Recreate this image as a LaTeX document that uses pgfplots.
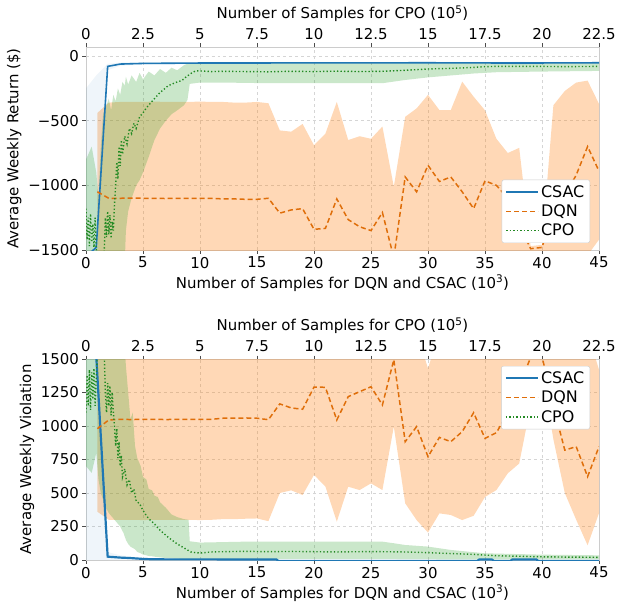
\documentclass[border=0pt]{standalone}
\usepackage{fontspec}
\setmainfont{DejaVu Sans}
\usepackage{pgfplots}
\usepackage{pgfplotstable}
\pgfplotsset{compat=1.18}
\usepgfplotslibrary{fillbetween}

\definecolor{csac}{HTML}{1F77B4}
\definecolor{dqn}{HTML}{FF7F0E}
\definecolor{dqnd}{HTML}{DF6E0A}
\definecolor{cpo}{HTML}{2CA02C}
\definecolor{cpod}{HTML}{238A23}
\definecolor{gridc}{HTML}{D5D5D5}
\definecolor{framec}{HTML}{CCCCCC}

% ---------- Return (top) ----------
\pgfplotstableread{
x m u l
1 -1050 -440 -1700
2 -1100 -360 -1700
3 -1100 -355 -1700
4 -1098 -355 -1700
5 -1100 -355 -1700
6 -1100 -352 -1700
7 -1102 -355 -1700
8 -1100 -355 -1700
9 -1100 -355 -1700
10 -1100 -352 -1700
11 -1100 -355 -1700
12 -1105 -355 -1700
13 -1105 -360 -1700
14 -1108 -360 -1700
15 -1108 -355 -1700
16 -1100 -365 -1700
17 -1215 -575 -1700
18 -1190 -585 -1700
19 -1180 -525 -1700
20 -1340 -690 -1700
21 -1333 -600 -1700
22 -1105 -355 -1700
23 -1265 -650 -1700
24 -1320 -620 -1700
25 -1350 -640 -1700
26 -1210 -545 -1700
27 -1560 -1010 -1700
28 -935 -470 -1700
29 -1050 -405 -1700
30 -845 -300 -1700
31 -970 -418 -1700
32 -935 -418 -1700
33 -1050 -198 -1700
34 -1180 -314 -1700
35 -965 -420 -1700
36 -1000 -640 -1700
37 -1100 -750 -1700
38 -1300 -710 -1700
39 -1490 -1470 -1520
40 -1480 -1460 -1510
41 -1200 -380 -1700
42 -1080 -270 -1700
43 -920 -205 -1700
44 -700 -190 -1540
45 -890 -370 -1420
}\dqnR

\pgfplotstableread{
x m u l
0 -1550 -250 -1700
0.9 -1480 -150 -1700
1.9 -80 -60 -110
3 -62 -50 -75
5 -57 -48 -66
10 -54 -46 -62
20 -53 -46 -60
30 -52 -45 -58
38 -54 -44 -66
45 -52 -45 -58
}\csacR

\pgfplotstableread{
t m
0.00 -1180
0.05 -1420
0.10 -1250
0.15 -1470
0.20 -1220
0.25 -1440
0.30 -1300
0.35 -1480
0.40 -1250
0.45 -1490
0.50 -1550
0.60 -1560
0.70 -1540
0.80 -1520
0.85 -1250
0.90 -1400
0.95 -1200
1.00 -1380
1.05 -1230
1.10 -1410
1.15 -1280
1.20 -1350
1.25 -1150
1.30 -1000
1.35 -820
1.40 -950
1.45 -700
1.50 -850
1.55 -650
1.60 -760
1.70 -620
1.80 -680
1.90 -560
2.00 -600
2.10 -520
2.20 -560
2.35 -470
2.50 -440
2.65 -400
2.80 -370
3.00 -330
3.20 -290
3.40 -260
3.60 -230
3.80 -215
4.00 -200
4.20 -190
4.40 -160
4.60 -135
4.80 -115
5.00 -115
5.50 -120
6 -118
7 -120
8 -122
9 -118
10 -120
11 -117
12 -120
13 -118
14 -110
15 -100
16 -95
17 -88
17.5 -82
18 -80
19 -80
20 -80
21 -82
22.5 -80
}\cpoR

\pgfplotstableread{
t u l
0.00 -800 -1600
0.25 -700 -1600
0.45 -900 -1600
0.55 -1100 -1600
0.65 -700 -1600
0.75 -450 -1600
0.90 -380 -1600
1.00 -330 -1600
1.10 -420 -1600
1.20 -300 -1600
1.30 -350 -1600
1.40 -250 -1600
1.50 -300 -1600
1.60 -200 -1600
1.70 -230 -1600
1.75 -160 -1350
1.85 -220 -1200
2.00 -150 -1100
2.20 -200 -1000
2.35 -130 -960
2.50 -180 -900
2.75 -120 -780
3.00 -150 -650
3.25 -100 -560
3.50 -130 -500
3.75 -90 -450
4.00 -110 -420
4.30 -70 -380
4.45 -60 -340
4.55 -60 -215
5.00 -55 -205
6 -55 -205
8 -55 -210
10 -55 -210
13 -55 -210
14 -55 -185
15 -55 -165
16 -55 -150
17 -55 -135
18 -55 -125
20 -55 -120
22.5 -55 -115
}\cpoRband

% ---------- Violation (bottom) ----------
\pgfplotstableread{
x m u l
1 980 1700 360
2 1045 1700 300
3 1050 1700 300
4 1048 1700 300
5 1050 1700 298
6 1050 1700 300
7 1048 1700 300
8 1050 1700 300
9 1050 1700 300
10 1050 1700 298
11 1050 1700 300
12 1058 1700 305
13 1058 1700 305
14 1060 1700 308
15 1058 1700 310
16 1047 1700 290
17 1165 1700 500
18 1135 1700 520
19 1125 1700 485
20 1290 1700 635
21 1289 1700 548
22 1045 1700 286
23 1219 1700 547
24 1256 1700 522
25 1293 1700 572
26 1157 1700 522
27 1495 1700 995
28 883 1700 423
29 995 1700 298
30 771 1430 205
31 915 1700 348
32 883 1700 336
33 958 1700 298
34 1099 1700 330
35 908 1700 470
36 950 1700 522
37 1100 1700 647
38 1300 1700 720
39 1510 1700 1150
40 1520 1700 1420
41 1150 1700 900
42 820 1700 500
43 846 1700 300
44 622 1700 110
45 846 1420 350
}\dqnV

\pgfplotstableread{
x m u l
0 1600 1700 0
0.9 1520 1700 0
1.9 25 60 0
3 18 35 2
4 14 25 2
5 8 15 0
6 5 10 0
16.7 4 9 0
16.9 -8 -2 -15
34.3 -8 -2 -15
34.5 4 9 0
35.6 4 9 0
35.8 -8 -2 -15
37.2 -8 -2 -15
37.4 4 9 0
39.5 4 9 0
39.7 -8 -2 -15
45 -8 -2 -15
}\csacV

\pgfplotstableread{
t m
0.00 1100
0.05 1380
0.10 1150
0.15 1420
0.20 1120
0.25 1400
0.30 1200
0.35 1430
0.40 1150
0.45 1350
0.50 1560
0.60 1580
0.70 1560
0.80 1540
0.85 1250
0.90 1100
0.95 1320
1.00 1150
1.05 1300
1.10 1080
1.15 1250
1.20 1100
1.25 1000
1.30 850
1.35 980
1.40 760
1.45 880
1.50 700
1.55 780
1.60 620
1.70 680
1.80 560
1.90 600
2.00 500
2.10 530
2.20 440
2.35 420
2.50 370
2.65 330
2.80 300
3.00 270
3.20 230
3.40 200
3.60 170
3.80 145
4.00 120
4.20 100
4.40 80
4.60 60
4.80 55
5.00 52
5.5 60
6 62
7 65
8 62
9 64
10 62
11 60
12 62
13 62
14 60
15 55
16 48
17 42
17.5 37
18 32
19 28
20 24
21 22
22.5 20
}\cpoV

\pgfplotstableread{
t u l
0.00 1700 700
0.25 1700 650
0.45 1700 800
0.55 1700 600
0.65 1700 500
0.85 1700 400
1.00 1700 350
1.25 1700 300
1.50 1700 250
1.65 1700 200
1.75 1450 150
1.85 1250 120
1.95 1050 100
2.05 1100 90
2.15 850 80
2.25 760 60
2.40 700 50
2.50 620 40
2.65 600 35
2.75 530 30
2.90 520 28
3.00 480 25
3.15 470 22
3.25 430 20
3.50 390 15
3.75 340 12
4.00 320 10
4.30 305 8
4.50 300 8
4.55 140 8
5.0 130 8
7.0 137 8
13.0 137 8
13.5 125 8
14 112 6
15 100 6
16 75 5
17.5 50 5
20 40 5
22.5 35 5
}\cpoVband

\pgfplotsset{
  base/.style={
    width=513bp, scale only axis,
    font=\fontsize{15}{18}\selectfont,
    axis line style={framec, line width=0.8pt},
    tick align=outside, major tick length=3.5bp,
    tick style={black!70, line width=0.7pt},
  },
}

\begin{document}
\begin{tikzpicture}
% ===== top: main axis =====
\begin{axis}[base, height=203bp, at={(0,0)}, anchor=north west,
  xmin=0, xmax=45, ymin=-1500, ymax=70,
  xtick={0,5,10,15,20,25,30,35,40,45},
  xticklabels={0,5,10,15,20,25,30,35,40,45},
  ytick={-1500,-1000,-500,0},
  yticklabels={−1500,−1000,−500,0},
  xtick pos=bottom, ytick pos=left,
  grid=major, major grid style={dashed, gridc, line width=0.6pt},
  xlabel={Number of Samples for DQN and CSAC (10\textsuperscript{3})},
  ylabel={Average Weekly Return (\$)},
  legend cell align=left,
  legend style={at={(0.9825,0.0345)}, anchor=south east, draw=framec, rounded corners=2pt,
    fill=white, font=\fontsize{16}{19}\selectfont, inner sep=3.5bp, row sep=2bp},
]
\addplot[name path=dqnu, draw=none, forget plot] table[x=x,y=u]{\dqnR};
\addplot[name path=dqnl, draw=none, forget plot] table[x=x,y=l]{\dqnR};
\addplot[fill=dqn, fill opacity=0.3, draw=none, forget plot] fill between[of=dqnu and dqnl];
\addplot[name path=csu, draw=none, forget plot] table[x=x,y=u]{\csacR};
\addplot[name path=csl, draw=none, forget plot] table[x=x,y=l]{\csacR};
\addplot[fill=csac, fill opacity=0.07, draw=none, forget plot] fill between[of=csu and csl];
\addplot[csac, line width=1.6pt, forget plot] table[x=x,y=m]{\csacR};
\addplot[draw=dqnd, dash pattern=on 5bp off 3bp, line width=1.5pt, forget plot] table[x=x,y=m]{\dqnR};
\addlegendimage{legend image code/.code={\draw[csac, line width=1.6pt] (0bp,0bp) -- (32bp,0bp);}}
\addlegendentry{CSAC}
\addlegendimage{legend image code/.code={\draw[dqnd, line width=1.5pt, dash pattern=on 5bp off 3bp] (0bp,0bp) -- (32bp,0bp);}}
\addlegendentry{DQN}
\addlegendimage{legend image code/.code={\draw[cpod, line width=1.4pt, dash pattern=on 1.3bp off 2.2bp] (0bp,0bp) -- (32bp,0bp);}}
\addlegendentry{CPO}
\end{axis}
% ===== top: CPO axis =====
\begin{axis}[base, height=203bp, at={(0,0)}, anchor=north west,
  xmin=0, xmax=22.5, ymin=-1500, ymax=70,
  axis x line*=top, axis y line=none,
  xtick={0,2.5,5,7.5,10,12.5,15,17.5,20,22.5},
  xticklabels={0,2.5,5,7.5,10,12.5,15,17.5,20,22.5},
  xlabel={Number of Samples for CPO (10\textsuperscript{5})},
]
\addplot[name path=cpu, draw=none, forget plot] table[x=t,y=u]{\cpoRband};
\addplot[name path=cpl, draw=none, forget plot] table[x=t,y=l]{\cpoRband};
\addplot[fill=cpo, fill opacity=0.25, draw=none, forget plot] fill between[of=cpu and cpl];
\addplot[draw=cpod, dash pattern=on 1.3bp off 2.2bp, line width=1.4pt, forget plot] table[x=t,y=m]{\cpoR};
\end{axis}

% ===== bottom: main axis =====
\begin{axis}[base, height=201bp, at={(0,-312bp)}, anchor=north west,
  xmin=0, xmax=45, ymin=0, ymax=1500,
  xtick={0,5,10,15,20,25,30,35,40,45},
  xticklabels={0,5,10,15,20,25,30,35,40,45},
  ytick={0,250,500,750,1000,1250,1500},
  yticklabels={0,250,500,750,1000,1250,1500},
  xtick pos=bottom, ytick pos=left,
  grid=major, major grid style={dashed, gridc, line width=0.6pt},
  xlabel={Number of Samples for DQN and CSAC (10\textsuperscript{3})},
  ylabel={Average Weekly Violation},
  legend cell align=left,
  legend style={at={(0.9825,0.965)}, anchor=north east, draw=framec, rounded corners=2pt,
    fill=white, font=\fontsize{16}{19}\selectfont, inner sep=3.5bp, row sep=2bp},
]
\addplot[name path=dqnu, draw=none, forget plot] table[x=x,y=u]{\dqnV};
\addplot[name path=dqnl, draw=none, forget plot] table[x=x,y=l]{\dqnV};
\addplot[fill=dqn, fill opacity=0.3, draw=none, forget plot] fill between[of=dqnu and dqnl];
\addplot[name path=csu, draw=none, forget plot] table[x=x,y=u]{\csacV};
\addplot[name path=csl, draw=none, forget plot] table[x=x,y=l]{\csacV};
\addplot[fill=csac, fill opacity=0.07, draw=none, forget plot] fill between[of=csu and csl];
\addplot[csac, line width=2.2pt, forget plot] table[x=x,y=m]{\csacV};
\addplot[draw=dqnd, dash pattern=on 5bp off 3bp, line width=1.5pt, forget plot] table[x=x,y=m]{\dqnV};
\addlegendimage{legend image code/.code={\draw[csac, line width=2.2pt] (0bp,0bp) -- (32bp,0bp);}}
\addlegendentry{CSAC}
\addlegendimage{legend image code/.code={\draw[dqnd, line width=1.5pt, dash pattern=on 5bp off 3bp] (0bp,0bp) -- (32bp,0bp);}}
\addlegendentry{DQN}
\addlegendimage{legend image code/.code={\draw[cpod, line width=1.4pt, dash pattern=on 1.3bp off 2.2bp] (0bp,0bp) -- (32bp,0bp);}}
\addlegendentry{CPO}
\end{axis}
% ===== bottom: CPO axis =====
\begin{axis}[base, height=201bp, at={(0,-312bp)}, anchor=north west,
  xmin=0, xmax=22.5, ymin=0, ymax=1500,
  axis x line*=top, axis y line=none,
  xtick={0,2.5,5,7.5,10,12.5,15,17.5,20,22.5},
  xticklabels={0,2.5,5,7.5,10,12.5,15,17.5,20,22.5},
  xlabel={Number of Samples for CPO (10\textsuperscript{5})},
]
\addplot[name path=cpu, draw=none, forget plot] table[x=t,y=u]{\cpoVband};
\addplot[name path=cpl, draw=none, forget plot] table[x=t,y=l]{\cpoVband};
\addplot[fill=cpo, fill opacity=0.25, draw=none, forget plot] fill between[of=cpu and cpl];
\addplot[draw=cpod, dash pattern=on 1.3bp off 2.2bp, line width=1.4pt, forget plot] table[x=t,y=m]{\cpoV};
\end{axis}

\pgfresetboundingbox
\useasboundingbox (-86bp,47bp) rectangle (532bp,-563bp);
\end{tikzpicture}
\end{document}
